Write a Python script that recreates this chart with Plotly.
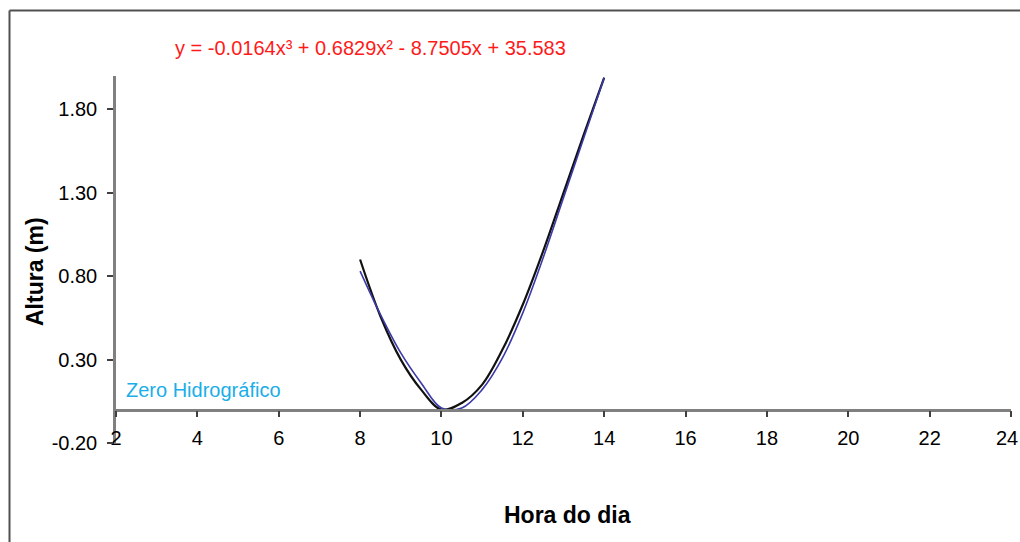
import plotly.graph_objects as go

# Data
hours = [8, 8.5, 9, 9.5, 10, 10.5, 11, 11.5, 12, 12.5, 13, 13.5, 14]
altura_medida = [0.90, 0.56, 0.30, 0.12, 0.00, 0.04, 0.15, 0.36, 0.63, 0.95, 1.30, 1.65, 1.99]
altura_ajuste = [0.83, 0.57, 0.34, 0.16, 0.01, 0.01, 0.12, 0.31, 0.58, 0.91, 1.27, 1.63, 1.99]

x_ticks = [2, 4, 6, 8, 10, 12, 14, 16, 18, 20, 22, 24]
x_tick_labels = [str(v) for v in x_ticks]
y_ticks = [-0.2, 0.3, 0.8, 1.3, 1.8]
y_tick_labels = ["-0.20", "0.30", "0.80", "1.30", "1.80"]

equation = "y = -0.0164x³ + 0.6829x² - 8.7505x + 35.583"
zero_label = "Zero Hidrográfico"

FONT = "Liberation Sans, Arial, sans-serif"
AXIS_GRAY = "#808080"

fig = go.Figure()
fig.add_trace(go.Scatter(x=hours, y=altura_medida, mode="lines",
                         line=dict(color="#111111", width=2.2, shape="spline"),
                         showlegend=False))
fig.add_trace(go.Scatter(x=hours, y=altura_ajuste, mode="lines",
                         line=dict(color="#3a3aa8", width=1.6, shape="spline"),
                         showlegend=False))

ymin, ymax = -0.2, 2.0
fig.update_layout(
    width=1020, height=542,
    margin=dict(l=116, r=9, t=76, b=99),
    paper_bgcolor="white", plot_bgcolor="white",
    font=dict(family=FONT, size=20, color="black"),
    xaxis=dict(range=[2, 24], tickvals=x_ticks, ticktext=x_tick_labels,
               showgrid=False, zeroline=False,
               showline=True, linecolor=AXIS_GRAY, linewidth=2.5,
               ticks="outside", ticklen=6, tickwidth=1.5, tickcolor="#404040",
               anchor="free", position=(0 - ymin) / (ymax - ymin),
               ticklabelstandoff=4,
               tickfont=dict(family=FONT, size=20, color="black")),
    yaxis=dict(range=[ymin, ymax], tickvals=y_ticks, ticktext=y_tick_labels,
               showgrid=False, zeroline=False,
               showline=True, linecolor=AXIS_GRAY, linewidth=2.5,
               ticks="outside", ticklen=6, tickwidth=1.5, tickcolor="#404040",
               ticklabelstandoff=6,
               tickfont=dict(family=FONT, size=20, color="black")),
)

# Last x tick label (would overflow the page edge; drawn flush to the edge instead)
fig.add_annotation(text=x_tick_labels[-1], xref="x", yref="y",
                   x=x_ticks[-1], y=0, xanchor="right", yanchor="middle",
                   xshift=9, yshift=-28, showarrow=False,
                   font=dict(family=FONT, size=20, color="black"))

# Outer frame (left and top edges)
fig.add_shape(type="line", xref="paper", yref="paper",
              x0=(9.5 - 116) / 895, x1=(9.5 - 116) / 895,
              y0=(443 - 560) / 367, y1=(443 - 10.5) / 367,
              line=dict(color="#505050", width=2))
fig.add_shape(type="line", xref="paper", yref="paper",
              x0=(9.5 - 116) / 895, x1=(1030 - 116) / 895,
              y0=(443 - 10.5) / 367, y1=(443 - 10.5) / 367,
              line=dict(color="#505050", width=2))

# Equation text
fig.add_annotation(text=equation, xref="paper", yref="paper",
                   x=(370 - 116) / 895, y=(443 - 48) / 367,
                   xanchor="center", yanchor="middle", showarrow=False,
                   font=dict(family=FONT, size=20, color="#ff1a1a"))

# Zero label
fig.add_annotation(text=zero_label, xref="x", yref="y", x=2, y=0,
                   xanchor="left", yanchor="bottom", xshift=8, yshift=7,
                   showarrow=False,
                   font=dict(family=FONT, size=20, color="#1aaee8"))

# Axis titles
fig.add_annotation(text="<b>Hora do dia</b>", xref="paper", yref="paper",
                   x=(567 - 116) / 895, y=(443 - 515) / 367,
                   xanchor="center", yanchor="middle", showarrow=False,
                   font=dict(family=FONT, size=23, color="black"))
fig.add_annotation(text="<b>Altura (m)</b>", xref="paper", yref="paper",
                   x=(35 - 116) / 895, y=(443 - 272) / 367,
                   xanchor="center", yanchor="middle", showarrow=False,
                   textangle=-90,
                   font=dict(family=FONT, size=23, color="black"))

fig.write_html("out.html", config={"displayModeBar": False},
               post_script="document.body.style.margin='0';document.body.style.overflow='hidden';")
